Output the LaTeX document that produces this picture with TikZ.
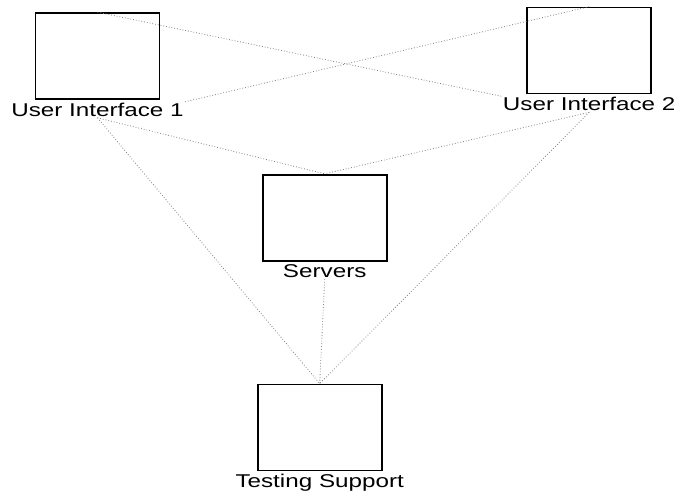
\documentclass[tikz,border=0pt]{standalone}
\usepackage{fontspec}
\newfontfamily\labelfont[FakeStretch=1.31]{Liberation Sans}
\usetikzlibrary{positioning}

\begin{document}
\begin{tikzpicture}[-,x=1pt,y=1pt,auto,node distance=2pt,
  box node/.style={rectangle,draw,line width=1.7pt,minimum width=124pt,minimum height=86pt,inner sep=0pt},
  text node/.style={inner sep=1pt,font=\labelfont\fontsize{18.5}{22}\selectfont},
  link/.style={dotted,line width=0.8pt,black!50}]
            \useasboundingbox (0,0) rectangle (680,-491);
            \node[box node] (ui1) at (97.5,-56) {};
            \node[box node] (ui2) [right=366pt of ui1, yshift=5.5pt] {};
            \node[box node] (servers) [below right=74pt and 101.5pt of ui1] {};
            \node[box node] (testing) [below=122pt of servers, xshift=-5pt] {};

            \node[text node] (ui1 text) [below=of ui1] {User Interface 1};
            \node[text node] (ui2 text) [below=of ui2] {User Interface 2};
            \node[text node] (servers text) [below=of servers] {Servers};
            \node[text node] (testing text) [below=of testing] {Testing Support};

            \path[every edge/.style={draw,link}]
                (ui1.north) edge (ui2 text.north west)
                (ui2.north) edge (ui1 text.north east)
                (ui1 text.south) edge (servers.north)
                (ui1 text.south) edge (testing.north)
                (ui2 text.south) edge (servers.north)
                (ui2 text.south) edge (testing.north)
                (servers text.south) edge (testing.north)
                ;
\end{tikzpicture}
\end{document}
